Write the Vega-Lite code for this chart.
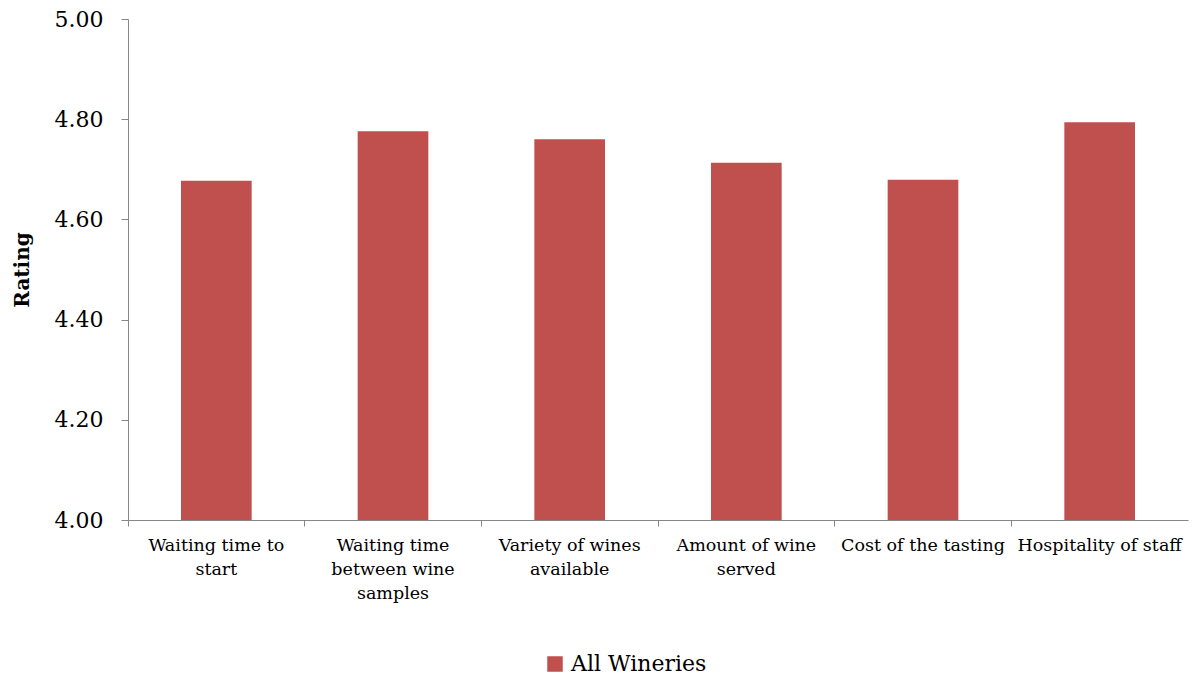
{
  "$schema": "https://vega.github.io/schema/vega-lite/v6.json",
  "autosize": "none",
  "width": 1060,
  "height": 501,
  "padding": {"left": 128, "top": 19, "right": 6, "bottom": 159},
  "background": "white",
  "config": {
    "view": {"stroke": null},
    "font": "DejaVu Serif",
    "axis": {"domainColor": "#868686", "tickColor": "#868686", "labelColor": "#000000", "titleColor": "#000000", "labelFont": "DejaVu Serif", "titleFont": "DejaVu Serif", "grid": false}
  },
  "data": {
    "values": [
      {"item": "Waiting time to|start", "rating": 4.677, "series": "All Wineries"},
      {"item": "Waiting time|between wine|samples", "rating": 4.776, "series": "All Wineries"},
      {"item": "Variety of wines|available", "rating": 4.760, "series": "All Wineries"},
      {"item": "Amount of wine|served", "rating": 4.713, "series": "All Wineries"},
      {"item": "Cost of the tasting", "rating": 4.679, "series": "All Wineries"},
      {"item": "Hospitality of staff", "rating": 4.794, "series": "All Wineries"}
    ]
  },
  "mark": {"type": "bar", "clip": true},
  "encoding": {
    "x": {
      "field": "item", "type": "nominal", "sort": null,
      "scale": {"paddingInner": 0.6, "paddingOuter": 0.3},
      "axis": {"title": null, "labelAngle": 0, "labelExpr": "split(datum.label, '|')", "labelFontSize": 17.5, "labelLineHeight": 24, "labelPadding": 10, "tickSize": 6, "bandPosition": -0.75, "labelBaseline": "top", "labelLimit": 200}
    },
    "y": {
      "field": "rating", "type": "quantitative",
      "scale": {"domain": [4, 5], "nice": false, "zero": false},
      "axis": {"title": "Rating", "titleFontSize": 20, "titleFontWeight": "bold", "titlePadding": 22, "values": [4, 4.2, 4.4, 4.6, 4.8, 5], "format": ".2f", "labelFontSize": 22, "labelPadding": 18, "tickSize": 7}
    },
    "color": {
      "field": "series", "type": "nominal",
      "scale": {"range": ["#C0504D"]},
      "legend": {"title": null, "orient": "none", "legendX": 416, "legendY": 634, "symbolType": "square", "symbolSize": 240, "labelFontSize": 22, "labelFont": "DejaVu Serif", "symbolStrokeWidth": 0, "labelOffset": 5}
    }
  }
}
